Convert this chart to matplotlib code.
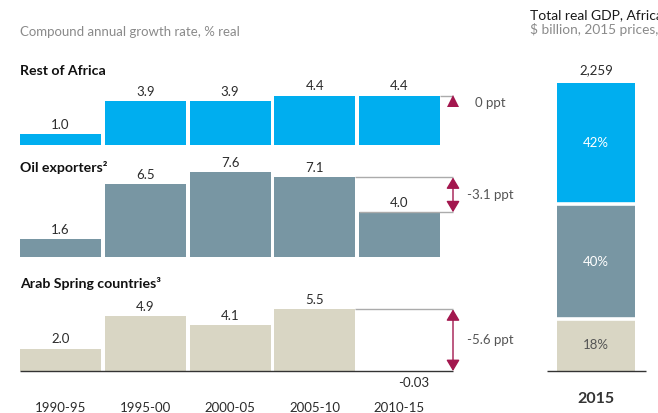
import matplotlib
matplotlib.use("Agg")
import matplotlib.pyplot as plt

plt.rcParams['font.family'] = ['Lato', 'DejaVu Sans']

# ---------------- data ----------------
periods = ["1990-95", "1995-00", "2000-05", "2005-10", "2010-15"]
rest_of_africa = [1.0, 3.9, 3.9, 4.4, 4.4]
oil_exporters = [1.6, 6.5, 7.6, 7.1, 4.0]
arab_spring = [2.0, 4.9, 4.1, 5.5, -0.03]
rest_labels = ["1.0", "3.9", "3.9", "4.4", "4.4"]
oil_labels = ["1.6", "6.5", "7.6", "7.1", "4.0"]
arab_labels = ["2.0", "4.9", "4.1", "5.5", "-0.03"]
ppt_changes = ["0 ppt", "-3.1 ppt", "-5.6 ppt"]
panel_titles = ["Rest of Africa", "Oil exporters²", "Arab Spring countries³"]

gdp_year = "2015"
gdp_total = 2259
gdp_total_label = "2,259"
gdp_shares = [18, 40, 42]          # Arab Spring, Oil exporters, Rest of Africa (bottom -> top)
gdp_share_labels = ["18%", "40%", "42%"]

# ---------------- style ----------------
BLUE = "#00AEEF"
SLATE = "#7896A3"
BEIGE = "#D9D6C4"
ARROW = "#A3174E"
GUIDE = "#ABABAB"
TXT = "#2b2b2b"
GRAY_TXT = "#8a8a8a"

W, H = 658, 413
fig = plt.figure(figsize=(W / 100, H / 100), dpi=100)


def px_axes(x0, y0, x1, y1):
    ax = fig.add_axes([x0 / W, 1 - y1 / H, (x1 - x0) / W, (y1 - y0) / H])
    ax.set_axis_off()
    ax.patch.set_visible(False)
    return ax


def ftext(x, y, s, **kw):
    fig.text(x / W, 1 - y / H, s, **kw)


# horizontal pixel mapping of the left panels
PITCH = 84.75
C0 = 60.5
BAR_W = 81 / PITCH


def xd(px):
    return (px - C0) / PITCH


S = 11.2  # pixels per percentage point
AX_L, AX_R = 18.125, 540
ARROW_X = xd(453)
TEXT_X = xd(467)

ftext(20, 32, "Compound annual growth rate, % real", fontsize=9.5, color=GRAY_TXT, va="center")

panels = [
    (rest_of_africa, rest_labels, BLUE, 55, 150, 145, 71),
    (oil_exporters, oil_labels, SLATE, 155, 262, 257, 167),
    (arab_spring, arab_labels, BEIGE, 290, 400, 371, 283),
]

for k, (vals, labs, col, y0, y1, base, ty) in enumerate(panels):
    ax = px_axes(AX_L, y0, AX_R, y1)
    ax.set_xlim(xd(AX_L), xd(AX_R))
    ax.set_ylim(-(y1 - base) / S, (base - y0) / S)
    xs = list(range(len(vals)))
    ax.bar(xs, vals, width=BAR_W, color=col, linewidth=0)
    for i, (v, lab) in enumerate(zip(vals, labs)):
        if v >= 0:
            ax.annotate(lab, (i, v), xytext=(0, 3.8), textcoords="offset points",
                        ha="center", va="baseline", fontsize=9.5, color=TXT)
        else:
            ax.text(xd(414), -12 / S, lab, ha="center", va="center", fontsize=9.5, color=TXT)
    ftext(20, ty, panel_titles[k], fontsize=10.2, fontweight="bold", color="#111111", va="center")

    prev = vals[3]
    last = vals[4]
    right_edge_prev = 3 + BAR_W / 2
    right_edge_last = 4 + BAR_W / 2
    left_edge_last = 4 - BAR_W / 2
    if k == 0:
        ax.plot([right_edge_last, ARROW_X], [last, last], color=GUIDE, lw=1.0, solid_capstyle="butt")
        ax.plot([ARROW_X], [last - 5.5 / S], marker="^", markersize=9, color=ARROW,
                markeredgewidth=0, clip_on=False)
        ax.text(xd(475), last - 7 / S, ppt_changes[k], ha="left", va="center", fontsize=9.5, color="#555555")
    else:
        ax.plot([right_edge_prev, ARROW_X], [prev, prev], color=GUIDE, lw=1.0, solid_capstyle="butt")
        lo = max(last, 0) if k == 1 else 0
        if k == 1:
            ax.plot([left_edge_last, ARROW_X], [last, last], color=GUIDE, lw=1.0, solid_capstyle="butt")
        ax.annotate("", xy=(ARROW_X, lo), xytext=(ARROW_X, prev),
                    arrowprops=dict(arrowstyle="<|-|>,head_length=0.45,head_width=0.27",
                                    mutation_scale=15, color=ARROW, lw=1.0,
                                    shrinkA=0, shrinkB=0))
        ax.text(TEXT_X, (prev + lo) / 2, ppt_changes[k], ha="left", va="center",
                fontsize=9.5, color="#555555")
    if k == 2:
        ax.plot([xd(20), ARROW_X], [0, 0], color="#333333", lw=1.0, solid_capstyle="butt")
        for i, p in enumerate(periods):
            ax.text(i, -(408 - base) / S, p, ha="center", va="center", fontsize=9.5, color=TXT)

# ---------------- right: stacked GDP bar ----------------
K = 288 / gdp_total  # pixels per $ billion
RX0, RX1, RY0, RY1, RBASE = 540, 655, 55, 413, 371
RC, RW = 596, 78
rax = px_axes(RX0, RY0, RX1, RY1)
rax.set_xlim((RX0 - RC) / RW, (RX1 - RC) / RW)
rax.set_ylim(-(RY1 - RBASE) / K, (RBASE - RY0) / K)

seg_cols = [BEIGE, SLATE, BLUE]
seg_txt = ["#555555", "white", "white"]
bottom = 0.0
bounds = []
for share, col, lab, tc in zip(gdp_shares, seg_cols, gdp_share_labels, seg_txt):
    h = gdp_total * share / 100
    rax.bar([0], [h], bottom=bottom, width=1.0, color=col, linewidth=0)
    rax.text(0, bottom + h / 2, lab, ha="center", va="center", fontsize=9.5, color=tc)
    bottom += h
    bounds.append(bottom)
for b in bounds[:-1]:
    rax.plot([-0.55, 0.55], [b, b], color="white", lw=2.6, solid_capstyle="butt")
rax.plot([(547 - RC) / RW, (646 - RC) / RW], [0, 0], color="#333333", lw=1.0, solid_capstyle="butt")
rax.text(0, gdp_total + 13 / K, gdp_total_label, ha="center", va="center", fontsize=9.5, color=TXT)
rax.text(0, -(399 - RBASE) / K, gdp_year, ha="center", va="center", fontsize=11.5,
         fontweight="bold", color="#333333")

ftext(530, 15, "Total real GDP, Africa¹", fontsize=10, color="#1a1a1a", va="center")
ftext(530, 29, "$ billion, 2015 prices, %", fontsize=9.8, color=GRAY_TXT, va="center")

fig.savefig("out.png", dpi=100)
